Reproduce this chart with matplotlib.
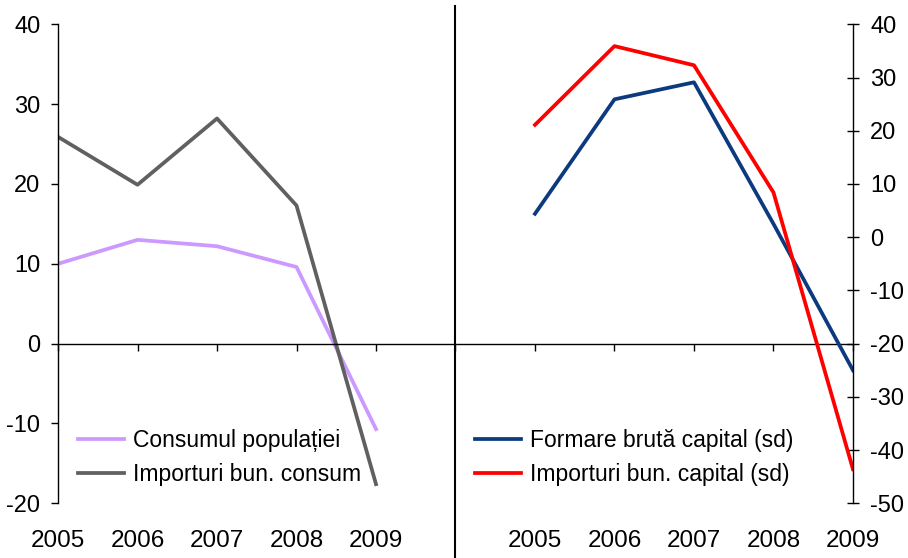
import matplotlib.pyplot as plt

plt.rcParams["font.family"] = ["Liberation Sans", "DejaVu Sans"]
plt.rcParams["axes.unicode_minus"] = False

years = ["2005", "2006", "2007", "2008", "2009"]
categories = years + [""] + years

consum_populatie = [10.0, 13.0, 12.2, 9.6, -10.7]
import_consum = [25.9, 19.9, 28.2, 17.3, -17.6]
formare_capital = [4.4, 25.9, 29.1, 2.5, -25.0]
import_capital = [21.1, 35.9, 32.3, 8.4, -43.6]

left_x = list(range(0, 5))
right_x = list(range(6, 11))
divider_x = 5

fig = plt.figure(figsize=(9.08, 5.58), dpi=100)
ax = fig.add_axes([0.0639, 0.098, 0.8755, 0.8585])
ax2 = ax.twinx()

l1, = ax.plot(left_x, consum_populatie, color="#CC99FF", lw=2.7,
              label="Consumul populației")
l2, = ax.plot(left_x, import_consum, color="#606060", lw=2.7,
              label="Importuri bun. consum")
l3, = ax2.plot(right_x, formare_capital, color="#0B3A7E", lw=2.7,
               label="Formare brută capital (sd)")
l4, = ax2.plot(right_x, import_capital, color="#FF0000", lw=2.7,
               label="Importuri bun. capital (sd)")

ax.set_xlim(0, 10)
ax.set_ylim(-20, 40)
ax2.set_ylim(-50, 40)
ax.set_yticks(range(-20, 41, 10))
ax2.set_yticks(range(-50, 41, 10))

for a in (ax, ax2):
    a.spines["top"].set_visible(False)
ax.spines["right"].set_visible(False)
ax2.spines["left"].set_visible(False)
ax2.spines["bottom"].set_visible(False)
ax.spines["bottom"].set_position(("data", 0))
ax.spines["bottom"].set_linewidth(1.0)
ax.spines["left"].set_linewidth(1.0)
ax2.spines["right"].set_linewidth(1.0)

ax.set_xticks(range(len(categories)))
ax.set_xticklabels([])
ax.tick_params(axis="x", direction="out", length=5, width=1.0)
ax.tick_params(axis="y", direction="out", length=4.7, width=1.0, pad=8,
               labelsize=17)
ax2.tick_params(axis="y", direction="inout", length=8.6, width=1.0, pad=8,
                labelsize=17)

# year labels at the bottom, under each category
for i, lab in enumerate(categories):
    ax.text(i, -0.079, lab, transform=ax.get_xaxis_transform(),
            ha="center", va="center", fontsize=17.5)

# divider between the two panels
ax.axvline(divider_x, ymin=-0.114, ymax=1.038, color="black", lw=1.5,
           clip_on=False)

leg_style = dict(loc="upper left", bbox_transform=fig.transFigure,
                 frameon=False, fontsize=16.5, handlelength=2.0,
                 handletextpad=0.4, labelspacing=0.45, borderaxespad=0)
ax.legend(handles=[l1, l2], bbox_to_anchor=(0.076, 0.247), **leg_style)
ax2.legend(handles=[l3, l4], bbox_to_anchor=(0.513, 0.247), **leg_style)

fig.savefig("out.png", dpi=100)
